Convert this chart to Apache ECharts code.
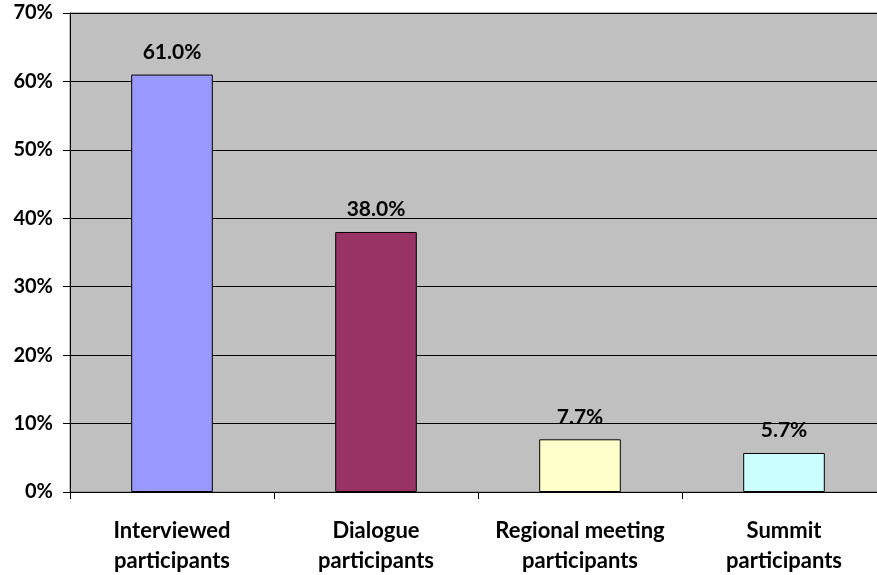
<!DOCTYPE html>
<html>
<head>
<meta charset="utf-8">
<script src="https://cdn.jsdelivr.net/npm/echarts@6/dist/echarts.min.js"></script>
<style>
html,body{margin:0;padding:0;background:#fff;}
#c{width:877px;height:575px;}
</style>
</head>
<body>
<div id="c"></div>
<script>
const categories = ['Interviewed\nparticipants', 'Dialogue\nparticipants', 'Regional meeting\nparticipants', 'Summit\nparticipants'];
const values = [61.0, 38.0, 7.7, 5.7];
const barColors = ['#9999FF', '#993366', '#FFFFCC', '#CCFFFF'];
const yTicks = [0, 10, 20, 30, 40, 50, 60, 70];

const font = 'Lato, "Open Sans", sans-serif';
const chart = echarts.init(document.getElementById('c'));
chart.setOption({
  animation: false,
  grid: {
    left: 70, top: 13, width: 816, height: 479,
    outerBoundsMode: 'none', containLabel: false,
    show: true, backgroundColor: '#C0C0C0', borderColor: '#808080', borderWidth: 1
  },
  xAxis: {
    type: 'category',
    data: categories,
    axisLine: { lineStyle: { color: '#000', width: 1 } },
    axisTick: { show: true, length: 7, lineStyle: { color: '#000' } },
    axisLabel: {
      color: '#000', fontFamily: font, fontWeight: 'bold', fontSize: 22,
      margin: 24, lineHeight: 30, interval: 0
    },
    splitLine: { show: false }
  },
  yAxis: {
    type: 'value',
    min: yTicks[0], max: yTicks[yTicks.length - 1], interval: 10,
    axisLine: { show: true, lineStyle: { color: '#000', width: 1 } },
    axisTick: { show: true, length: 7, lineStyle: { color: '#000' } },
    axisLabel: {
      color: '#000', fontFamily: font, fontWeight: 'bold', fontSize: 20,
      margin: 17, formatter: v => v + '%'
    },
    splitLine: { show: true, lineStyle: { color: '#000', width: 1 } }
  },
  series: [{
    type: 'bar',
    barWidth: '40%',
    data: values.map((v, i) => ({
      value: v,
      itemStyle: { color: barColors[i], borderColor: '#000', borderWidth: 1 }
    })),
    label: {
      show: true, position: 'top', distance: 12,
      color: '#000', fontFamily: font, fontWeight: 'bold', fontSize: 21,
      formatter: p => p.value.toFixed(1) + '%'
    }
  }]
});
</script>
</body>
</html>
